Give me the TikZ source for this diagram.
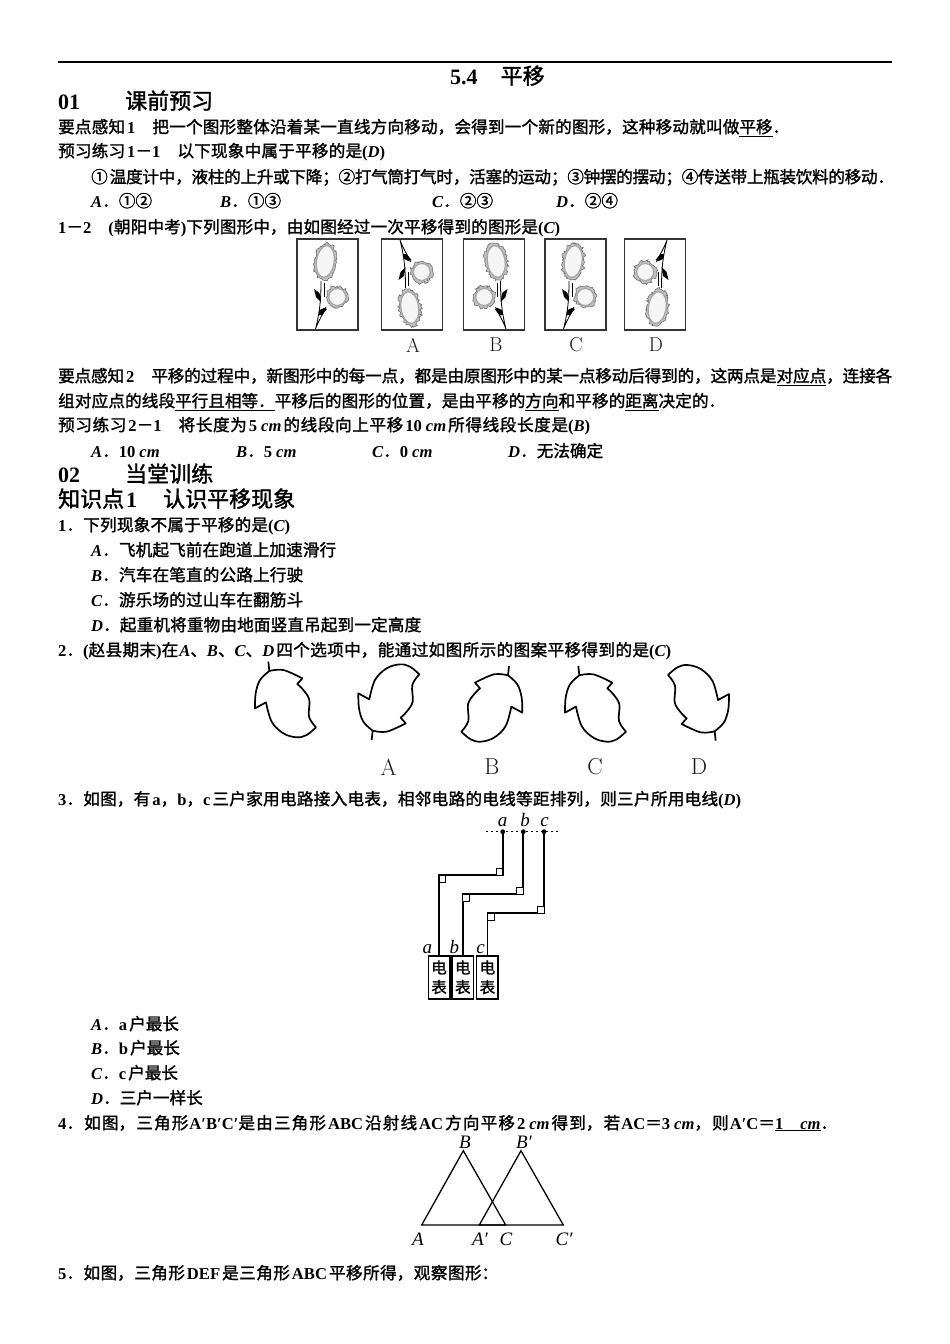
\documentclass[tikz,border=0pt]{standalone}
\usepackage{fontspec}
\newfontfamily\zhfont{Noto Sans CJK SC}[FakeBold=1.5]
\newfontfamily\latnfont{Liberation Serif}
\usetikzlibrary{decorations.pathmorphing}
\XeTeXlinebreaklocale "zh"
\XeTeXlinebreakskip=0pt plus 3pt minus 2pt
\newcommand\latn[1]{{\latnfont\bfseries #1}}
\newcommand\latni[1]{{\latnfont\bfseries\itshape #1}}
\newcommand\fitw[2]{\parbox[b]{#1pt}{\parindent=0pt\parfillskip=0pt\tolerance=9999\hbadness=10000\hfuzz=5pt #2}}
\tikzset{
  txt/.style={anchor=base west,inner sep=0pt,font=\zhfont\fontsize{16.6}{20}\selectfont},
  head/.style={anchor=base west,inner sep=0pt,font=\zhfont\fontsize{22}{24}\selectfont},
  fig/.style={inner sep=0pt,text=black!90},
  geo/.style={anchor=base,inner sep=0pt,font=\latnfont\itshape\fontsize{19}{20}\selectfont},
  wire/.style={line width=1.7pt},
  corner/.style={line width=.9pt,fill=white},
  spiky/.style={draw=black!60,fill=black!25,line width=.5pt,decorate,
    decoration={random steps,segment length=1.7,amplitude=1.6}},
  rim/.style={draw=black!35,fill=black!4,line width=1.2pt},
  flower/.pic={
    \begin{scope}[shift={(-30.5,-45.5)}]
      \draw[line width=1.2pt,black!80] (0,0) rectangle (61,91);
      \draw[line width=.8pt] (24,42)..controls (24,60) and (23,72)..(18.5,90)
        ..controls (23,78) and (27,74)..(29,68);
      \draw[line width=.8pt] (27,44)--(27,58);
      \fill (17,50)--(22.5,54)--(24,63)--(19,58)--cycle;
      \fill (22.5,71)--(27,69)--(30,70)--(25,76)--(21.5,76)--cycle;
      \path[spiky] (28.3,22.5) ellipse[x radius=11,y radius=18.5,rotate=-8];
      \path[rim] (28.3,22.5) ellipse[x radius=8.8,y radius=16,rotate=-8];
      \path[spiky] (40.3,58) circle[radius=10.8];
      \path[rim] (40.3,58) circle[radius=8.5];
    \end{scope}
  },
  mango/.pic={
    \begin{scope}[scale=.3333]
      \draw[line width=1.7pt] (85,5)--(88,33);
      \draw[line width=1.7pt,line join=round]
        plot[smooth,tension=.6] coordinates{(88,33)(130,30)(187,55)}
        -- plot[smooth,tension=.6] coordinates{(172,72)(190,90)(208,120)(207,170)(228,202)}
        -- plot[smooth,tension=.6] coordinates{(228,202)(200,225)(170,232)(130,220)(95,185)(78,127)}
        -- plot[smooth,tension=.6] coordinates{(45,145)(47,100)(60,60)(88,33)};
    \end{scope}
  }
}
\begin{document}
\begin{tikzpicture}[x=1pt,y=-1pt]
  \useasboundingbox (0,0) rectangle (950,1344);
  \fill[white] (0,0) rectangle (950,1344);
  \draw[line width=1.2pt] (58,62)--(892,62);
  % heading block
  \node[head] (title) at (450,84) {\latn{5.4}\hspace{23pt}平移};
  \node[head] (sec1) at (58,109) {\latn{01}\hspace{45pt}课前预习};
  \node[txt] (p1) at (58,133) {\fitw{731}{要点感知\hspace{2pt}\latn{1}\hspace{17pt}把一个图形整体沿着某一直线方向移动，会得到一个新的图形，这种移动就叫做\underline{平移}．}};
  \node[txt] (p2) at (58,157) {\fitw{327}{预习练习\hspace{2pt}\latn{1}－\latn{1}\hspace{17pt}以下现象中属于平移的是\latn{(}\latni{D}\latn{)}}};
  \node[txt] (p3) at (91,183) {\fitw{803}{①\hspace{2pt}温度计中，液柱的上升或下降；②打气筒打气时，活塞的运动；③钟摆的摆动；④传送带上瓶装饮料的移动．}};
  \node[txt] (p4a) at (91,207) {\latni{A}．①②};
  \node[txt] (p4b) at (220,207) {\latni{B}．①③};
  \node[txt] (p4c) at (432,207) {\latni{C}．②③};
  \node[txt] (p4d) at (556,207) {\latni{D}．②④};
  \node[txt] (p5) at (58,233) {\fitw{502}{\latn{1}－\latn{2}\hspace{17pt}\latn{(}朝阳中考\latn{)}下列图形中，由如图经过一次平移得到的图形是\latn{(}\latni{C}\latn{)}}};
  % flowers
  \pic at (327.5,284.5) {flower};
  \pic[yscale=-1] at (412,284.5) {flower};
  \pic[xscale=-1] at (494,284.5) {flower};
  \pic at (575.5,284.5) {flower};
  \pic[xscale=-1,yscale=-1] at (655,284.5) {flower};
  \foreach \lab/\xx in {A/413,B/496,C/576,D/656}
    \node[fig,font=\fontsize{20}{20}\selectfont] (fl\lab) at (\xx,345) {\lab};
  \node[txt] (q1) at (58,382) {\fitw{834}{要点感知\hspace{2pt}\latn{2}\hspace{17pt}平移的过程中，新图形中的每一点，都是由原图形中的某一点移动后得到的，这两点是\underline{对应点}，连接各}};
  \node[txt] (q2) at (58,407) {\fitw{667}{组对应点的线段\underline{平行且相等．}平移后的图形的位置，是由平移的\underline{方向}和平移的\underline{距离}决定的．}};
  \node[txt] (q3) at (58,431) {\fitw{532}{预习练习\hspace{2pt}\latn{2}－\latn{1}\hspace{17pt}将长度为\hspace{2pt}\latn{5}\hspace{4pt}\latni{cm}\hspace{2pt}的线段向上平移\hspace{2pt}\latn{10}\hspace{4pt}\latni{cm}\hspace{2pt}所得线段长度是\latn{(}\latni{B}\latn{)}}};
  \node[txt] (q4a) at (91,457) {\latni{A}．\latn{10}\hspace{4pt}\latni{cm}};
  \node[txt] (q4b) at (236,457) {\latni{B}．\latn{5}\hspace{4pt}\latni{cm}};
  \node[txt] (q4c) at (372,457) {\latni{C}．\latn{0}\hspace{4pt}\latni{cm}};
  \node[txt] (q4d) at (508,457) {\latni{D}．无法确定};
  \node[head] (sec2) at (58,482) {\latn{02}\hspace{45pt}当堂训练};
  \node[head] (sec3) at (58,507) {知识点\hspace{2pt}\latn{1}\hspace{26pt}认识平移现象};
  \node[txt] (r1) at (58,531) {\fitw{232}{\latn{1}．下列现象不属于平移的是\latn{(}\latni{C}\latn{)}}};
  \node[txt] (r1a) at (91,556) {\fitw{245}{\latni{A}．飞机起飞前在跑道上加速滑行}};
  \node[txt] (r1b) at (91,581) {\fitw{212}{\latni{B}．汽车在笔直的公路上行驶}};
  \node[txt] (r1c) at (91,606) {\fitw{212}{\latni{C}．游乐场的过山车在翻筋斗}};
  \node[txt] (r1d) at (91,631) {\fitw{330}{\latni{D}．起重机将重物由地面竖直吊起到一定高度}};
  \node[txt] (r2) at (58,656) {\fitw{613}{\latn{2}．\latn{(}赵县期末\latn{)}在\hspace{1pt}\latni{A}、\latni{B}、\latni{C}、\latni{D}\hspace{2pt}四个选项中，能通过如图所示的图案平移得到的是\latn{(}\latni{C}\latn{)}}};
  % leaves
  \pic at (240,660) {mango};
  \pic[yscale=-1] at (343.33,741.67) {mango};
  \pic[xscale=-1] at (537.33,664.33) {mango};
  \pic at (550,664.33) {mango};
  \pic[xscale=-1,yscale=-1] at (744,742.33) {mango};
  \foreach \lab/\xx in {A/388.5,B/492,C/595,D/699}
    \node[fig,font=\fontsize{23}{24}\selectfont] (lf\lab) at (\xx,767) {\lab};
  \node[txt] (r3) at (58,805) {\fitw{683}{\latn{3}．如图，有\hspace{2pt}\latn{a}，\latn{b}，\latn{c}\hspace{2pt}三户家用电路接入电表，相邻电路的电线等距排列，则三户所用电线\latn{(}\latni{D}\latn{)}}};
  % meters
  \coordinate (pa) at (502.7,831.7);
  \coordinate (pb) at (523.3,831.7);
  \coordinate (pc) at (544,831.7);
  \draw[line width=1.2pt,dash pattern=on 2pt off 3pt] (486,831.7)--(560,831.7);
  \foreach \pt in {pa,pb,pc}
    \fill (\pt) circle[radius=2.4];
  \node[geo] (topa) at (502.7,826) {a};
  \node[geo] (topb) at (525,826) {b};
  \node[geo] (topc) at (544.5,826) {c};
  \tikzset{meter/.style={draw,line width=1.5pt,minimum width=21.5pt,minimum height=43pt,inner sep=0pt,align=center,font=\zhfont\fontsize{15.5}{19.5}\selectfont}}
  \node[meter] (ma) at (439,977.3) {电\\表};
  \node[meter] (mb) at (462.8,977.3) {电\\表};
  \node[meter] (mc) at (487.4,977.3) {电\\表};
  \draw[wire] (pa)--(502.7,875)--(439,875)--(ma.north);
  \draw[wire] (pb)--(523.3,894.3)--(462.8,894.3)--(mb.north);
  \draw[wire] (pc)--(544,913.3)--(487.4,913.3)--(mc.north);
  \draw[corner] (496,868)rectangle++(6.7,7);
  \draw[corner] (439,875)rectangle++(6.7,7);
  \draw[corner] (516.6,887.3)rectangle++(6.7,7);
  \draw[corner] (462.8,894.3)rectangle++(6.7,7);
  \draw[corner] (537.3,906.3)rectangle++(6.7,7);
  \draw[corner] (487.4,913.3)rectangle++(6.7,7);
  \node[geo] (la) at (427.3,953) {a};
  \node[geo] (lb) at (454.3,953) {b};
  \node[geo] (lc) at (480.7,953) {c};
  \node[txt] (r3a) at (91,1030) {\latni{A}．\latn{a}\hspace{2pt}户最长};
  \node[txt] (r3b) at (91,1054) {\latni{B}．\latn{b}\hspace{2pt}户最长};
  \node[txt] (r3c) at (91,1079) {\latni{C}．\latn{c}\hspace{2pt}户最长};
  \node[txt] (r3d) at (91,1104) {\latni{D}．三户一样长};
  \node[txt] (r4) at (58,1129) {\fitw{779}{\latn{4}．如图，三角形\hspace{1pt}\latn{A′B′C′}是由三角形\hspace{2pt}\latn{ABC}\hspace{2pt}沿射线\hspace{2pt}\latn{AC}\hspace{2pt}方向平移\hspace{2pt}\latn{2}\hspace{4pt}\latni{cm}\hspace{2pt}得到，若\hspace{1pt}\latn{AC}＝\latn{3}\hspace{4pt}\latni{cm}，则\hspace{1pt}\latn{A′C}＝\underline{\latn{1}\hspace{17pt}\latni{cm}}．}};
  % triangles
  \coordinate (A) at (421.7,1225);
  \coordinate (B) at (463.3,1150.7);
  \coordinate (C) at (505.7,1225);
  \coordinate (A1) at (479.3,1225);
  \coordinate (B1) at (521,1150.7);
  \coordinate (C1) at (563.3,1225);
  \draw[line width=1.3pt] (A)--(B)--(C)--cycle;
  \draw[line width=1.3pt] (A1)--(B1)--(C1)--cycle;
  \node[geo] (nB) at (465,1148) {B};
  \node[geo] (nB1) at (524,1148) {B′};
  \node[geo] (nA) at (418,1245) {A};
  \node[geo] (nA1) at (480,1245) {A′};
  \node[geo] (nC) at (506,1245) {C};
  \node[geo] (nC1) at (564,1245) {C′};
  \node[txt] (r5) at (58,1279) {\fitw{440}{\latn{5}．如图，三角形\hspace{2pt}\latn{DEF}\hspace{2pt}是三角形\hspace{2pt}\latn{ABC}\hspace{2pt}平移所得，观察图形：}};
\end{tikzpicture}
\end{document}
